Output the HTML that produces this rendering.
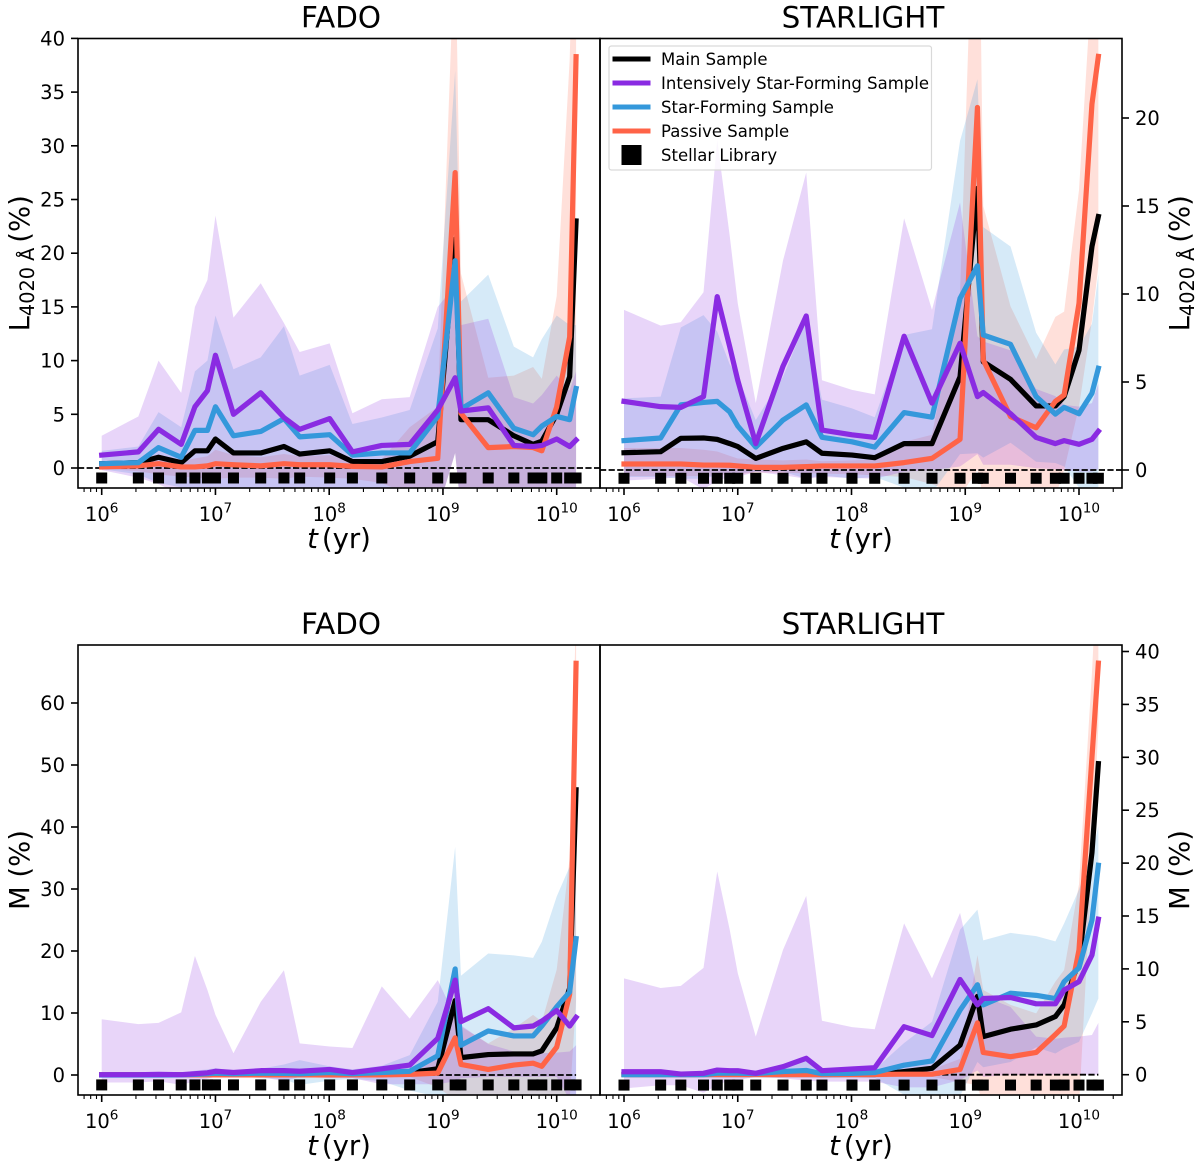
<!DOCTYPE html>
<html lang="en">
<head>
<meta charset="utf-8">
<title>Light and mass fractions vs age</title>
<style>
html,body{margin:0;padding:0;background:#fff;}
svg{display:block;font-family:"DejaVu Sans","Liberation Sans",sans-serif;}
</style>
</head>
<body>
<svg id="figure" xmlns="http://www.w3.org/2000/svg" width="1200" height="1167" viewBox="0 0 1200 1167"></svg>
<script>
const ages = [1e6,2.1e6,3.16e6,5e6,6.6e6,8.5e6,1e7,1.44e7,2.5e7,4e7,5.5e7,1.01e8,1.6e8,2.9e8,5.1e8,9e8,1.28e9,1.44e9,2.5e9,4.2e9,6.2e9,7.4e9,1e10,1.3e10,1.48e10];
const xTickExponents = [6,7,8,9,10];

const seriesNames = ['Main Sample','Intensively Star-Forming Sample','Star-Forming Sample','Passive Sample'];
const stellarLabel = 'Stellar Library';

/* FADO light */
const fadoLMain = [.4,.5,1,.5,1.6, 1.6,2.7,1.4,1.4,2, 1.3,1.6,.6,.6,1.1, 2.45,21.3,4.5,4.5,3, 2.2,2.5,5,8.5,23];
const fadoLPassive = [.1,.2,.4,.1,.1, .2,.4,.3,.2,.4, .3,.3,.15,.1,.6, .9,27.5,5.1,1.9,2, 1.9,1.6,5.7,12.2,38.3];
const fadoLSF = [.4,.5,1.9,1,3.5, 3.5,5.7,3,3.4,4.6, 2.9,3.1,1.2,1.4,1.4, 4.8,19.3,5.5,7,3.7, 3.1,3.9,4.8,4.5,7.4];
const fadoLISF = [1.2,1.5,3.6,2.2,5.7, 7.2,10.5,5,7,4.7, 3.6,4.6,1.5,2.1,2.2, 5.4,8.4,5.3,5.6,2.1, 2,2.1,2.7,2,2.6];
const fadoLISFHi = [3,4.8,10,7,15, 17.5,23.5,14,17.2,13.5, 10.8,11.6,5.1,6.4,6.6, 15,17,13.3,13.9,6.6, 6,6.8,8.6,7.2,9];
const fadoLISFLo = [-.2,-.9,-1.5,-2.5,-3, -3,-3,-3,-3,-3, -3,-3,-3,-3,-3, -4,1.4,-4,-3,-3, -3,-3,-3,-3,-3];
const fadoLSFHi = [1.6,2,5.2,3.8,9, 10,14.2,9.2,10.3,13.2, 8.6,9.6,4.1,4.7,5.4, 13,37,15.5,18,11.3, 10.3,12,14.2,13.3,13.3];
const fadoLSFLo = [-.1,-.6,-1.4,-1.8,-3, -3,-3,-3,-3,-3, -3,-3,-3,-3,-3, -4,1.4,-4,-3,-3, -3,-3,-3,-3,-3];
const fadoLPassiveHi = [.4,.5,.9,.6,.9, 1.1,1.7,1.2,1,1.3, 1.1,1.2,.6,.8,3.8, 5.7,50,18.1,8.4,8.6, 9.4,8.3,16,38,60];
const fadoLPassiveLo = [-.05,-.3,-.6,-.8,-.9, -1,-1,-.9,-.9,-1, -.8,-.9,-1,-1.4,-2.5, -4,1.4,-4,-3,-3, -3,-3,-3,-3,-3];

/* STARLIGHT light */
const slLMain = [.98,1.04,1.8,1.82,1.74, 1.5,1.33,.66,1.23,1.6, .95,.85,.7,1.5,1.5, 5.3,16,6.15,5.15,3.64, 3.64,4.17,6.8,12.7,14.4];
const slLPassive = [.34,.34,.34,.28,.28, .27,.23,.15,.15,.19, .23,.23,.23,.42,.66, 1.74,20.6,6.25,3.03,2.4, 3.9,4.26,9.47,20.8,23.5];
const slLSF = [1.67,1.82,3.7,3.84,3.9, 3.3,2.5,1.3,2.84,3.7, 1.86,1.6,1.3,3.26,3, 9.75,11.6,7.67,7.14,4.17, 3.18,3.56,3.2,4.36,5.78];
const slLISF = [3.9,3.6,3.56,4.17,9.85, 7,5.1,1.5,5.9,8.75, 2.27,2,1.85,7.6,3.8, 7.2,4.17,4.4,3.2,1.85, 1.5,1.67,1.46,1.74,2.2];
const slLISFHi = [9.1,8.2,8.4,10.1,18.75, 13.3,9.47,3.8,11.9,16.9, 5.1,4.55,4.3,14.3,9.1, 15.2,7.6,7.3,6.8,4.6, 4.2,3.7,3.6,3.8,4.9];
const slLISFLo = [-.6,-.5,-.4,-1.1,-.6, -.4,-.4,-.1,-.3,-.5, -.4,-.45,-.5,-.1,0, .2,.9,.3,.3,.1, .05,0,-.1,-.1,.05];
const slLSFHi = [4.07,4.17,8.1,8.8,7.86, 6,5.3,2.84,5.3,8.5, 4,3.5,3,7.67,8, 18.7,22.2,13.8,12.7,7.8, 6,6.85,7,8.3,11.1];
const slLSFLo = [-.4,-.4,-.5,-.5,-.3, -.2,-.2,-.1,-.1,-.5, -.3,-.5,-.4,-1,-1.3, .9,.95,.7,1.55,.47, .4,.2,-1,-1,-1];
const slLPassiveHi = [1.25,1.25,1.25,1.15,1.05, .8,.65,.6,.55,.6, .5,.55,.6,1.6,2, 10,40,15,9.3,6.3, 8.7,9,15.9,28,34];
const slLPassiveLo = [-.35,-.35,-.35,-.35,-.3, -.25,-.25,-.15,-.15,-.2, -.2,-.25,-.3,-.4,-.8, -1.5,0,-1.5,-1.5,-1.5, -1.5,0,3.6,8.5,11.6];

/* FADO mass */
const fadoMMain = [.02,.02,.02,.02,.03, .03,.05,.03,.05,.05, .05,.08,.05,.3,.4, 1,12,2.8,3.3,3.4, 3.4,3.9,7.6,14,46];
const fadoMPassive = [.02,.02,.02,.02,.02, .02,.02,.02,.02,.02, .02,.02,.02,.02,.1, .3,6,1.7,.9,1.6, 1.9,1.4,4.5,13,66.4];
const fadoMSF = [0,0,0,.02,.1, .2,.3,.2,.3,.25, .2,.4,.2,.4,.6, 3.1,17.1,4.8,7.1,6.3, 6.3,7.9,11,13.4,22];
const fadoMISF = [.05,.05,.1,.05,.2, .35,.6,.4,.7,.7, .6,.9,.4,1,1.6, 5.9,15.3,8.6,10.7,7.6, 7.9,8.7,10.4,7.9,9.3];
const fadoMISFHi = [9,8.2,8.4,10.1,19.2, 13.7,9.7,3.5,11.8,16.9, 5.1,4.6,4.35,14.3,9.1, 15.3,9.4,8,5,3.8, 3.8,3.5,3.6,3.8,4.8];
const fadoMISFLo = [-1.2,-1.2,-1,-1.6,-1, -.6,-.3,0,-.3,-1, -.3,-.5,-.5,-1.5,-1.5, -1.5,-1,-.5,-.3,-.3, -.3,-.3,-.3,-4,-4];
const fadoMSFHi = [.2,.2,.2,.3,.7, .9,1.1,.7,1,1.7, 2.4,1.4,.9,1.5,3.2, 11.8,36.8,16,19.6,19.3, 18.9,21.5,28.8,33.6,34];
const fadoMSFLo = [-.1,-.1,-.1,-.1,-.1, -.1,-.1,-.2,-.5,-.7, -1.6,-.9,-.6,-1,-2.5, -3.5,-4,-4,-4,-4, -4,-4,-4,-4,-4];
const fadoMPassiveHi = [.05,.05,.05,.05,.05, .05,.05,.05,.05,.05, .05,.05,.05,.1,.3, 3,16,7.8,5.1,7.5, 9.7,8.6,17,35,75];
const fadoMPassiveLo = [-.02,-.02,-.02,-.02,-.02, -.02,-.02,-.02,-.02,-.02, -.02,-.02,-.02,-.1,-.3, -2,-4,-4,-4,-4, -4,-4,-4,-4,12];

/* STARLIGHT mass */
const slMMain = [.02,.02,.02,.02,.02, .02,.02,.02,.02,.02, .02,.02,.02,.3,.6, 2.8,7.4,3.6,4.3,4.7, 5.5,6.6,10.8,21,29.4];
const slMPassive = [.02,.02,.02,.02,.02, .02,.02,.02,.02,.02, .02,.02,.02,.05,.05, .5,4.9,2.1,1.7,2.1, 3.8,4.6,11.8,30,38.9];
const slMSF = [0,0,0,0,.15, .15,.15,.1,.3,.4, .1,.12,.2,.9,1.3, 6.1,8.5,6.6,7.7,7.5, 7.2,8.8,10.1,14.6,19.8];
const slMISF = [.28,.28,.06,.13,.44, .38,.38,.13,.76,1.55, .38,.54,.66,4.54,3.7, 9,6.6,7.2,7.3,6.7, 6.7,8,8.8,11.3,14.7];
const slMISFHi = [9.1,8.2,8.4,10.1,19.2, 13.7,9.6,3.6,11.8,16.9, 5.1,4.5,4.3,14.3,9.1, 15.3,8,7.4,6.4,3.6, 3.4,3.5,3.6,3.75,4.9];
const slMISFLo = [-1.3,-1,-1,-1.7,-1, -.5,-.5,-.2,-.35,-.56, -.66,-.66,-.66,-1.2,-1.2, -.5,.4,-.2,0,0, 0,0,0,0,0];
const slMSFHi = [.1,.1,.1,.2,.5, .6,.5,.3,.7,1.5, .4,.4,.5,3,5, 13.7,15.6,12.7,13.4,13.1, 12.6,14.3,17.5,21,23.5];
const slMSFLo = [-.05,-.05,-.05,-.05,-.05, -.05,-.05,-.1,-.1,-.2, -.3,-.2,-.3,-1.9,-3, -2,1.2,.7,1.2,2.6, 2,2.5,3.1,5.8,7.2];
const slMPassiveHi = [.03,.03,.03,.03,.03, .03,.03,.03,.03,.03, .03,.03,.03,.2,.5, 1.5,11.3,8,6.6,5.8, 8.8,9.9,18,38,50];
const slMPassiveLo = [-.02,-.02,-.02,-.02,-.02, -.02,-.02,-.02,-.02,-.02, -.02,-.02,-.02,-.2,-.2, -.7,-1,-3,-3,-3, -3,-3,-3,20,33];

const yTicksFadoL = [0,5,10,15,20,25,30,35,40];
const yTicksSlL = [0,5,10,15,20];
const yTicksFadoM = [0,10,20,30,40,50,60];
const yTicksSlM = [0,5,10,15,20,25,30,35,40];
const stellarLevels = [-.93,-.47,-1.6,-.98];

const colorMain = '#000000';
const colorISF = '#8a2be2';
const colorSF = '#3498db';
const colorPassive = '#ff6347';

const SVG_NS = 'http://www.w3.org/2000/svg';
const fig = document.getElementById('figure');

function mk(tag, parent, attrs, text) {
  const el = document.createElementNS(SVG_NS, tag);
  for (const k in attrs) el.setAttribute(k, attrs[k]);
  if (text !== undefined) el.textContent = text;
  parent.appendChild(el);
  return el;
}

function bandPath(x, y, hi, lo) {
  let d = '';
  ages.forEach((a, i) => { d += (i ? 'L' : 'M') + x(a).toFixed(2) + ' ' + y(hi[i]).toFixed(2); });
  for (let i = ages.length - 1; i >= 0; i--) d += 'L' + x(ages[i]).toFixed(2) + ' ' + y(lo[i]).toFixed(2);
  return d + 'Z';
}
function linePoints(x, y, vals) {
  return ages.map((a, i) => x(a).toFixed(2) + ',' + y(vals[i]).toFixed(2)).join(' ');
}

function drawPanel(cfg) {
  const g = mk('g', fig, {});
  
  
  const W = cfg.right - cfg.left, H = cfg.bottom - cfg.top;
  const x = a => cfg.x6 + (Math.log10(a) - 6) * 113.75;
  const y = v => cfg.y0 - v * cfg.ppu;

  const clipId = 'clip-' + cfg.id;
  const cp = mk('clipPath', g, {id: clipId});
  mk('rect', cp, {x: cfg.left, y: cfg.top, width: W, height: H});
  const plot = mk('g', g, {'clip-path': 'url(#' + clipId + ')'});

  const bPassive = mk('path', plot, {d: bandPath(x, y, cfg.passiveHi, cfg.passiveLo), fill: colorPassive, 'fill-opacity': .2});
  
  
  const bSF = mk('path', plot, {d: bandPath(x, y, cfg.sfHi, cfg.sfLo), fill: colorSF, 'fill-opacity': .2});
  
  
  const bISF = mk('path', plot, {d: bandPath(x, y, cfg.isfHi, cfg.isfLo), fill: colorISF, 'fill-opacity': .2});
  
  

  const dashFrom = cfg.fullDash ? cfg.left : x(ages[0]);
  const dashTo = cfg.fullDash ? cfg.right : x(ages[ages.length - 1]);
  const zero = mk('line', plot, {x1: dashFrom, x2: dashTo, y1: y(0), y2: y(0), stroke: '#000', 'stroke-width': 1.8, 'stroke-dasharray': '6.2 2.4'});
  
  

  const common = {fill: 'none', 'stroke-width': 5.2, 'stroke-linejoin': 'round', 'stroke-linecap': 'square'};
  const lMain = mk('polyline', plot, Object.assign({points: linePoints(x, y, cfg.main), stroke: colorMain}, common));
  
  
  const lPassive = mk('polyline', plot, Object.assign({points: linePoints(x, y, cfg.passive), stroke: colorPassive}, common));
  
  
  const lSF = mk('polyline', plot, Object.assign({points: linePoints(x, y, cfg.sf), stroke: colorSF}, common));
  
  
  const lISF = mk('polyline', plot, Object.assign({points: linePoints(x, y, cfg.isf), stroke: colorISF}, common));
  
  

  ages.forEach(a => {
    const m = mk('rect', g, {x: x(a) - 5.5, y: y(cfg.stellar) - 5.5, width: 11, height: 11, fill: '#000'});
    
    
  });

  const frame = mk('rect', g, {x: cfg.left, y: cfg.top, width: W, height: H, fill: 'none', stroke: '#000', 'stroke-width': 1.6});
  
  

  /* x axis */
  xTickExponents.forEach(e => {
    const px = x(Math.pow(10, e));
    const t = mk('line', g, {x1: px, x2: px, y1: cfg.bottom, y2: cfg.bottom + 7, stroke: '#000', 'stroke-width': 1.6});
    
    
    const lab = mk('text', g, {x: px, y: cfg.bottom + 33, 'text-anchor': 'middle', 'font-size': 19.5, fill: '#000'});
    
    
    mk('tspan', lab, {}, '10');
    mk('tspan', lab, {dy: -8.5, 'font-size': 13.6}, String(e));
  });
  for (let e = 5; e <= 10; e++) {
    for (let k = 2; k <= 9; k++) {
      const px = x(k * Math.pow(10, e));
      if (px < cfg.left || px > cfg.right) continue;
      const t = mk('line', g, {x1: px, x2: px, y1: cfg.bottom, y2: cfg.bottom + 4, stroke: '#000', 'stroke-width': 1.1});
      
      
    }
  }

  /* y axis */
  const onLeft = cfg.side === 'left';
  cfg.yTicks.forEach(v => {
    const py = y(v);
    const t = mk('line', g, {x1: onLeft ? cfg.left - 7 : cfg.right, x2: onLeft ? cfg.left : cfg.right + 7, y1: py, y2: py, stroke: '#000', 'stroke-width': 1.6});
    
    
    const lab = mk('text', g, {x: onLeft ? cfg.left - 13 : cfg.right + 13, y: py + 7, 'text-anchor': onLeft ? 'end' : 'start', 'font-size': 19.5, fill: '#000'}, String(v));
    
    
  });

  /* titles */
  const title = mk('text', g, {x: (cfg.left + cfg.right) / 2 + 2, y: cfg.top - 11, 'text-anchor': 'middle', 'font-size': 29.4, fill: '#000'}, cfg.title);
  
  

  const xl = mk('text', g, {x: (cfg.left + cfg.right) / 2, y: cfg.bottom + 60, 'text-anchor': 'middle', 'font-size': 27.5, fill: '#000'});
  
  
  mk('tspan', xl, {'font-style': 'italic'}, 't');
  mk('tspan', xl, {dx: 4}, '(yr)');

  const yx = onLeft ? 29 : 1189;
  const yy = (cfg.top + cfg.bottom) / 2;
  const yl = mk('text', g, {x: yx, y: yy, 'text-anchor': 'middle', 'font-size': 27.5, fill: '#000', transform: 'rotate(-90 ' + yx + ' ' + yy + ')'});
  
  
  if (cfg.yIsLight) {
    mk('tspan', yl, {}, 'L');
    mk('tspan', yl, {dy: 5, 'font-size': 19.3}, '4020 Å');
    mk('tspan', yl, {dy: -5, dx: 5}, '(%)');
  } else {
    mk('tspan', yl, {}, 'M (%)');
  }
}

drawPanel({id:'fado-light', title:'FADO', side:'left', yIsLight:true, fullDash:true,
  left:78, right:600, top:38.5, bottom:488, x6:101.7, y0:468, ppu:10.74, yTicks:yTicksFadoL, stellar:stellarLevels[0],
  main:fadoLMain, passive:fadoLPassive, sf:fadoLSF, isf:fadoLISF,
  isfHi:fadoLISFHi, isfLo:fadoLISFLo, sfHi:fadoLSFHi, sfLo:fadoLSFLo, passiveHi:fadoLPassiveHi, passiveLo:fadoLPassiveLo});
drawPanel({id:'starlight-light', title:'STARLIGHT', side:'right', yIsLight:true, fullDash:true,
  left:600, right:1122, top:38.5, bottom:488, x6:624, y0:470, ppu:17.6, yTicks:yTicksSlL, stellar:stellarLevels[1],
  main:slLMain, passive:slLPassive, sf:slLSF, isf:slLISF,
  isfHi:slLISFHi, isfLo:slLISFLo, sfHi:slLSFHi, sfLo:slLSFLo, passiveHi:slLPassiveHi, passiveLo:slLPassiveLo});
drawPanel({id:'fado-mass', title:'FADO', side:'left', yIsLight:false, fullDash:false,
  left:78, right:600, top:645, bottom:1095, x6:101.7, y0:1075, ppu:6.2, yTicks:yTicksFadoM, stellar:stellarLevels[2],
  main:fadoMMain, passive:fadoMPassive, sf:fadoMSF, isf:fadoMISF,
  isfHi:fadoMISFHi, isfLo:fadoMISFLo, sfHi:fadoMSFHi, sfLo:fadoMSFLo, passiveHi:fadoMPassiveHi, passiveLo:fadoMPassiveLo});
drawPanel({id:'starlight-mass', title:'STARLIGHT', side:'right', yIsLight:false, fullDash:false,
  left:600, right:1122, top:645, bottom:1095, x6:624, y0:1074.7, ppu:10.58, yTicks:yTicksSlM, stellar:stellarLevels[3],
  main:slMMain, passive:slMPassive, sf:slMSF, isf:slMISF,
  isfHi:slMISFHi, isfLo:slMISFLo, sfHi:slMSFHi, sfLo:slMSFLo, passiveHi:slMPassiveHi, passiveLo:slMPassiveLo});

/* legend */
const legend = mk('g', fig, {});


const legendBox = mk('rect', legend, {x: 609, y: 46, width: 322.5, height: 124, rx: 2.5, fill: '#fff', 'fill-opacity': .8, stroke: '#d9d9d9', 'stroke-width': 1.2});


const legendColors = [colorMain, colorISF, colorSF, colorPassive];
seriesNames.forEach((name, i) => {
  const ly = 59 + i * 24;
  const h = mk('line', legend, {x1: 612.5, x2: 650.5, y1: ly, y2: ly, stroke: legendColors[i], 'stroke-width': 5});
  
  
  const t = mk('text', legend, {x: 661, y: ly + 6, 'font-size': 16.5, fill: '#000'}, name);
  
  
});
const stellarSwatch = mk('rect', legend, {x: 621.5, y: 145, width: 20, height: 20, fill: '#000'});


const stellarText = mk('text', legend, {x: 661, y: 161, 'font-size': 16.5, fill: '#000'}, stellarLabel);


</script>
</body>
</html>
